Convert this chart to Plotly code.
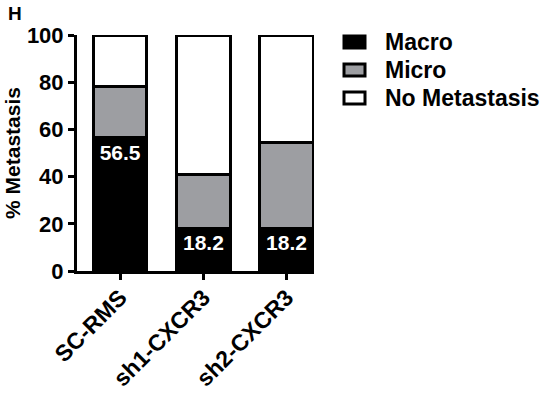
import plotly.graph_objects as go

categories = ["SC-RMS", "sh1-CXCR3", "sh2-CXCR3"]
macro = [56.5, 18.2, 18.2]
micro = [21.7, 22.7, 36.3]
no_met = [21.8, 59.1, 45.5]
macro_labels = ["56.5", "18.2", "18.2"]
y_ticks = [0, 20, 40, 60, 80, 100]
series_names = ["Macro", "Micro", "No Metastasis"]
series_colors = ["black", "#9d9ea2", "white"]

FONT = "Liberation Sans, Arial, sans-serif"
line = dict(color="black", width=3)

W, H = 543, 396
L, R, T, B = 77, 229, 35, 125
PW, PH = W - L - R, H - T - B


def px(x):
    return (x - L) / PW


def py(y):
    return (H - B - y) / PH


fig = go.Figure()
fig.add_trace(go.Bar(
    x=categories, y=macro, name=series_names[0],
    marker=dict(color=series_colors[0], line=line),
    text=macro_labels, textposition="inside", insidetextanchor="end",
    textangle=0,
    textfont=dict(family=FONT, size=21, color="white", weight="bold"),
    width=0.64,
))
fig.add_trace(go.Bar(
    x=categories, y=micro, name=series_names[1],
    marker=dict(color=series_colors[1], line=line), width=0.64,
))
fig.add_trace(go.Bar(
    x=categories, y=no_met, name=series_names[2],
    marker=dict(color=series_colors[2], line=line), width=0.64,
))

# legend drawn manually (larger swatches than plotly's built-in legend)
shapes = []
annotations = []
for i, (nm, col) in enumerate(zip(series_names, series_colors)):
    cy = 42 + 28 * i
    shapes.append(dict(
        type="rect", xref="paper", yref="paper",
        x0=px(344), x1=px(365), y0=py(cy - 6), y1=py(cy + 6),
        fillcolor=col, line=dict(color="black", width=3),
    ))
    annotations.append(dict(
        text=nm, xref="paper", yref="paper", x=px(383), y=py(cy),
        xanchor="left", yanchor="middle", showarrow=False,
        font=dict(family=FONT, size=23, color="black", weight="bold"),
    ))
annotations.append(dict(
    text="H", xref="paper", yref="paper", x=px(6), y=py(13),
    xanchor="left", yanchor="middle", showarrow=False,
    font=dict(family=FONT, size=19, color="black", weight="bold"),
))

fig.update_layout(
    barmode="stack",
    width=W, height=H,
    margin=dict(l=L, r=R, t=T, b=B, autoexpand=False),
    plot_bgcolor="white", paper_bgcolor="white",
    font=dict(family=FONT, color="black", weight="bold"),
    showlegend=False,
    shapes=shapes,
    annotations=annotations,
)

fig.update_xaxes(
    range=[-0.52, 2.33],
    showline=True, linecolor="black", linewidth=3,
    ticks="outside", ticklen=6, tickwidth=3, tickcolor="black",
    tickangle=-45, ticklabelstandoff=-5,
    tickfont=dict(family=FONT, size=23, color="black", weight="bold"),
    showgrid=False, zeroline=False,
)
fig.update_yaxes(
    range=[0, 100], tickvals=y_ticks,
    showline=True, linecolor="black", linewidth=3,
    ticks="outside", ticklen=6, tickwidth=3, tickcolor="black",
    tickfont=dict(family=FONT, size=22, color="black", weight="bold"),
    title=dict(text="% Metastasis", standoff=1,
               font=dict(family=FONT, size=21, color="black", weight="bold")),
    showgrid=False, zeroline=False,
)

fig.write_html("out.html",
               config={"displayModeBar": False},
               post_script="document.body.style.margin='0';")
